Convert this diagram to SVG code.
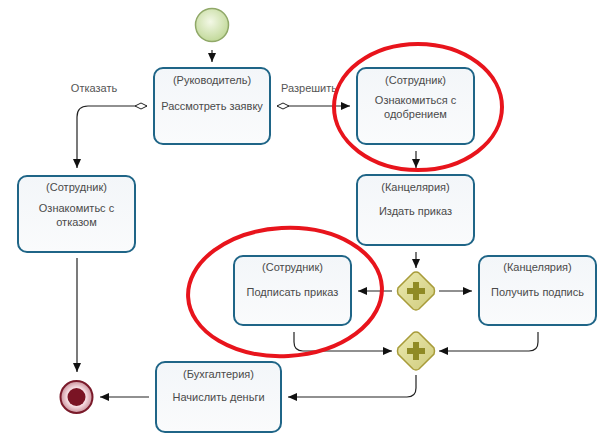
<svg xmlns="http://www.w3.org/2000/svg" width="611" height="443" viewBox="0 0 611 443">
<style>
.task{fill:url(#tg);stroke:#1f6587;stroke-width:2}
.t{font-family:"Liberation Sans",Arial,sans-serif;font-size:11px;fill:#4a4a4a;text-anchor:middle}
.lb{font-family:"Liberation Sans",Arial,sans-serif;font-size:11px;fill:#555;text-anchor:middle}
.c{fill:none;stroke:#222;stroke-width:1.2}
.red{fill:none;stroke:#e8141c;stroke-width:4}
.gw{fill:url(#gg);stroke:#a89c3a;stroke-width:1.5}
.plus{fill:#8f8a24}
</style>
<defs>
<linearGradient id="tg" x1="0" y1="0" x2="0" y2="1"><stop offset="0" stop-color="#f3f6f9"/><stop offset="1" stop-color="#fafbfc"/></linearGradient>
<linearGradient id="gg" x1="0" y1="0" x2="1" y2="1"><stop offset="0" stop-color="#eceab0"/><stop offset="1" stop-color="#cfcb7c"/></linearGradient>
<radialGradient id="sg" cx="0.45" cy="0.4" r="0.6"><stop offset="0" stop-color="#f3f8e6"/><stop offset="1" stop-color="#c2d99a"/></radialGradient>
<radialGradient id="eg" cx="0.5" cy="0.5" r="0.5"><stop offset="0.6" stop-color="#f6dde2"/><stop offset="1" stop-color="#c9909a"/></radialGradient>
<marker id="ar" markerUnits="userSpaceOnUse" markerWidth="10" markerHeight="10" refX="9" refY="4" orient="auto"><path d="M0,0 L9,4 L0,8 z" fill="#111"/></marker>
<marker id="dm" markerUnits="userSpaceOnUse" markerWidth="14" markerHeight="8" refX="0.5" refY="4" orient="auto"><path d="M0.5,4 L6.5,1 L12.5,4 L6.5,7 z" fill="#fff" stroke="#222" stroke-width="1"/></marker>
</defs>

<g id="connectors">
<path class="c" d="M212,50 V62" marker-end="url(#ar)"/>
<path class="c" d="M147,106 H88 Q77,106 77,117 V168" marker-start="url(#dm)" marker-end="url(#ar)"/>
<path class="c" d="M277,106 H350" marker-start="url(#dm)" marker-end="url(#ar)"/>
<path class="c" d="M416,151 V168" marker-end="url(#ar)"/>
<path class="c" d="M416,252 V268" marker-end="url(#ar)"/>
<path class="c" d="M392,291 H358" marker-end="url(#ar)"/>
<path class="c" d="M439,291 H472" marker-end="url(#ar)"/>
<path class="c" d="M294,332 V342 Q294,351 303,351 H392" marker-end="url(#ar)"/>
<path class="c" d="M538,332 V342 Q538,351 529,351 H439" marker-end="url(#ar)"/>
<path class="c" d="M416,375 V388 Q416,397 407,397 H288" marker-end="url(#ar)"/>
<path class="c" d="M149,397 H100" marker-end="url(#ar)"/>
<path class="c" d="M77,258 V372" marker-end="url(#ar)"/>
<text class="lb" x="94" y="92">Отказать</text>
<text class="lb" x="309" y="92">Разрешить</text>
</g>

<g id="start"><circle cx="212" cy="25" r="16.5" fill="url(#sg)" stroke="#90a868" stroke-width="1.5"/></g>

<g id="task-review">
<rect class="task" x="154" y="68" width="116" height="76" rx="9"/>
<text class="t" x="212" y="84">(Руководитель)</text>
<text class="t" x="212" y="110">Рассмотреть заявку</text>
</g>

<g id="task-approved">
<rect class="task" x="357" y="68" width="117" height="76" rx="9"/>
<text class="t" x="415.5" y="84">(Сотрудник)</text>
<text class="t" x="415.5" y="104">Ознакомиться с</text>
<text class="t" x="415.5" y="118">одобрением</text>
</g>

<g id="task-rejected">
<rect class="task" x="18" y="176" width="117" height="76" rx="9"/>
<text class="t" x="76.5" y="191">(Сотрудник)</text>
<text class="t" x="76.5" y="212">Ознакомитьс с</text>
<text class="t" x="76.5" y="226">отказом</text>
</g>

<g id="task-order">
<rect class="task" x="357" y="175" width="117" height="70" rx="9"/>
<text class="t" x="415.5" y="191">(Канцелярия)</text>
<text class="t" x="415.5" y="215">Издать приказ</text>
</g>

<g id="gateway-split">
<path class="gw" d="M416,272 Q418,272 419,273 L434,288 Q435,291 434,294 L419,309 Q416,311 413,309 L398,294 Q397,291 398,288 L413,273 Q414,272 416,272 z"/>
<path class="plus" d="M413,282 H419 V288 H425 V294 H419 V300 H413 V294 H407 V288 H413 z"/>
</g>

<g id="task-sign">
<rect class="task" x="234" y="256" width="117" height="69" rx="9"/>
<text class="t" x="292.5" y="271">(Сотрудник)</text>
<text class="t" x="292.5" y="296">Подписать приказ</text>
</g>

<g id="task-receive">
<rect class="task" x="479" y="256" width="117" height="69" rx="9"/>
<text class="t" x="537.5" y="271">(Канцелярия)</text>
<text class="t" x="537.5" y="296">Получить подпись</text>
</g>

<g id="gateway-join">
<path class="gw" d="M416,332 Q418,332 419,333 L434,348 Q435,351 434,354 L419,369 Q416,371 413,369 L398,354 Q397,351 398,348 L413,333 Q414,332 416,332 z"/>
<path class="plus" d="M413,342 H419 V348 H425 V354 H419 V360 H413 V354 H407 V348 H413 z"/>
</g>

<g id="task-pay">
<rect class="task" x="156" y="362" width="125" height="70" rx="9"/>
<text class="t" x="218.5" y="378">(Бухгалтерия)</text>
<text class="t" x="218.5" y="401">Начислить деньги</text>
</g>

<g id="end">
<circle cx="76.5" cy="397" r="16" fill="url(#eg)" stroke="#7a1a2a" stroke-width="2"/>
<circle cx="76.5" cy="397" r="9" fill="#7a1424"/>
</g>

<g id="highlights">
<ellipse class="red" cx="418" cy="107" rx="84" ry="63"/>
<ellipse class="red" cx="285" cy="292" rx="97" ry="64" transform="rotate(-3 285 292)"/>
</g>
</svg>
